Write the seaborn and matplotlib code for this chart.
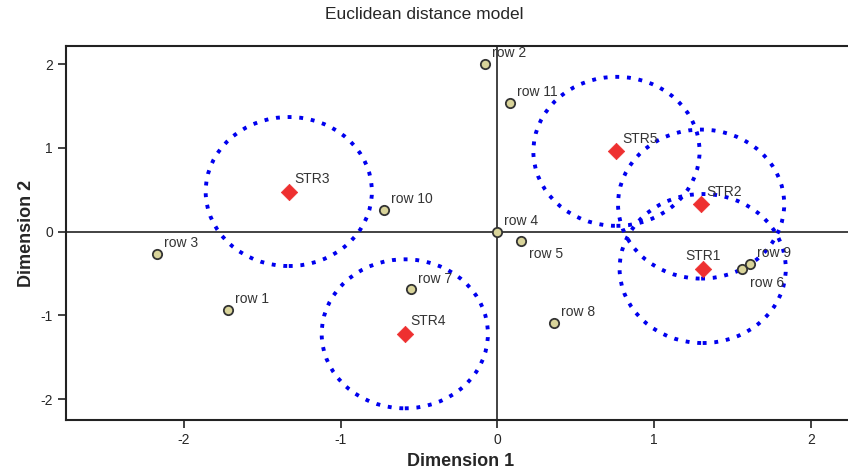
import numpy as np
import pandas as pd
import seaborn as sns
import matplotlib.pyplot as plt
from matplotlib.patches import Ellipse

# Row coordinates
row_names = ['row 1', 'row 2', 'row 3', 'row 4', 'row 5', 'row 6',
             'row 7', 'row 8', 'row 9', 'row 10', 'row 11']
row_x = [-1.72, -0.08, -2.17, 0.00, 0.15, 1.56, -0.55, 0.36, 1.61, -0.72, 0.08]
row_y = [-0.93, 2.00, -0.27, 0.00, -0.11, -0.44, -0.69, -1.09, -0.39, 0.26, 1.54]

# Stimulus coordinates
str_names = ['STR1', 'STR2', 'STR3', 'STR4', 'STR5']
str_x = [1.31, 1.30, -1.33, -0.59, 0.76]
str_y = [-0.44, 0.33, 0.48, -1.22, 0.96]

# Ideal-point radius (in data units, x and y)
radius_x = 0.53
radius_y = 0.89

rows = pd.DataFrame({'name': row_names, 'x': row_x, 'y': row_y})
strs = pd.DataFrame({'name': str_names, 'x': str_x, 'y': str_y})

sns.set_style('ticks')
plt.rcParams['font.family'] = ['Liberation Sans', 'DejaVu Sans']
plt.rcParams['axes.unicode_minus'] = False

fig = plt.figure(figsize=(8.48, 4.73), dpi=100)
ax = fig.add_axes([0.078, 0.112, 0.93, 0.791])

# Axis cross lines
ax.axhline(0, color='#222222', lw=1.2, zorder=1)
ax.axvline(0, color='#222222', lw=1.2, zorder=1)

# Dotted circles around each stimulus
for _, r in strs.iterrows():
    ax.add_patch(Ellipse((r['x'], r['y']), 2 * radius_x, 2 * radius_y,
                         fill=False, edgecolor='#0000ee', lw=2.8,
                         linestyle=(0, (1, 2.0)), zorder=2))

sns.scatterplot(data=rows, x='x', y='y', ax=ax, marker='o', s=45,
                color='#d9d49a', edgecolor='#333333', linewidth=1.3, zorder=3)
sns.scatterplot(data=strs, x='x', y='y', ax=ax, marker='D', s=70,
                color='#ee3030', edgecolor='#ee3030', linewidth=0.5, zorder=4)

# label offsets in points
row_off = {'row 5': (6, -12), 'row 6': (6, -13)}
for _, r in rows.iterrows():
    dx, dy = row_off.get(r['name'], (5, 5))
    ax.annotate(r['name'], (r['x'], r['y']), xytext=(dx, dy),
                textcoords='offset points', fontsize=10, color='#333333')
for _, r in strs.iterrows():
    if r['name'] == 'STR1':
        ax.annotate(r['name'], (r['x'], r['y']), xytext=(0, 6),
                    textcoords='offset points', fontsize=10, color='#333333',
                    ha='center')
    else:
        ax.annotate(r['name'], (r['x'], r['y']), xytext=(4, 6),
                    textcoords='offset points', fontsize=10, color='#333333')

ax.set_xlim(-2.75, 2.28)
ax.set_ylim(-2.25, 2.22)
ax.set_xticks([-2, -1, 0, 1, 2])
ax.set_yticks([-2, -1, 0, 1, 2])
ax.tick_params(labelsize=10, length=6, width=1.2, color='#222222')
for side in ['left', 'bottom', 'top']:
    ax.spines[side].set_color('#222222')
    ax.spines[side].set_linewidth(1.5)
ax.spines['right'].set_visible(False)

ax.set_xlabel('Dimension 1', fontsize=13, fontweight='bold')
ax.set_ylabel('Dimension 2', fontsize=13, fontweight='bold')
fig.suptitle('Euclidean distance model', fontsize=12.5, y=0.985)

plt.savefig('out.png', dpi=100)
plt.close()
